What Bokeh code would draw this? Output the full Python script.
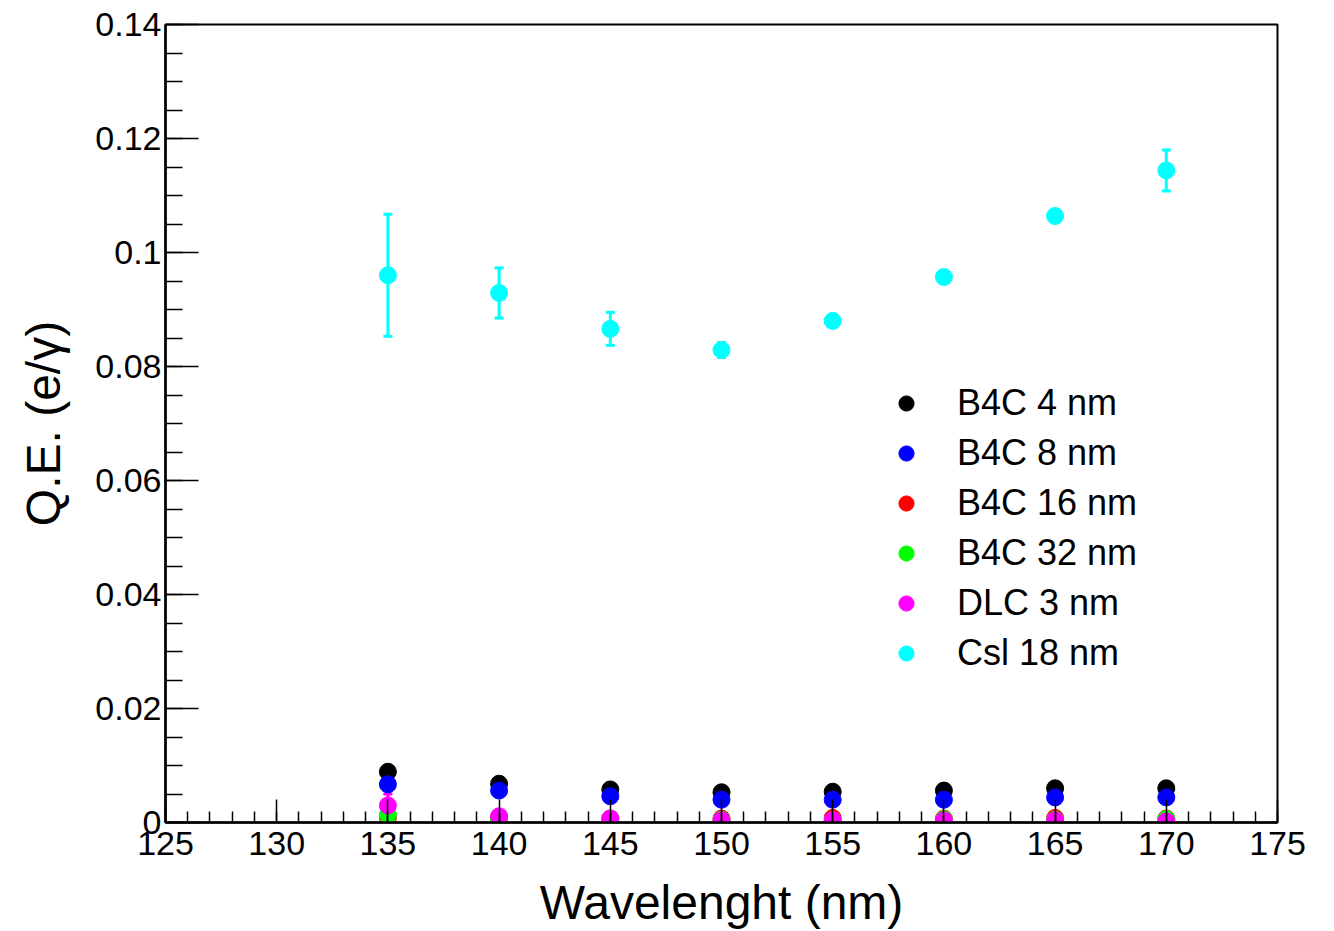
from bokeh.plotting import figure
from bokeh.models import (Range1d, FixedTicker, CustomJSTickFormatter, Whisker, TeeHead,
                          ColumnDataSource, Legend, LegendItem)
from bokeh.embed import file_html
from bokeh.resources import INLINE

wavelength = [135, 140, 145, 150, 155, 160, 165, 170]

b4c_4 = [0.0089, 0.0068, 0.0058, 0.0053, 0.0054, 0.0056, 0.0060, 0.0060]
b4c_4_err = [0.0005, 0.0005, 0.0004, 0.0004, 0.0004, 0.0004, 0.0004, 0.0004]
b4c_8 = [0.0067, 0.0056, 0.0046, 0.0040, 0.0040, 0.0040, 0.0044, 0.0044]
b4c_8_err = [0.0005, 0.0005, 0.0004, 0.0003, 0.0003, 0.0003, 0.0003, 0.0003]
b4c_16 = [0.0009, 0.0008, 0.0007, 0.0007, 0.0008, 0.0007, 0.0008, 0.0007]
b4c_16_err = [0.0003, 0.0002, 0.0002, 0.0002, 0.0002, 0.0002, 0.0002, 0.0002]
b4c_32 = [0.0013, 0.0004, 0.0002, 0.0005, 0.0004, 0.0006, 0.0005, 0.0006]
b4c_32_err = [0.0003, 0.0002, 0.0002, 0.0002, 0.0002, 0.0002, 0.0002, 0.0002]
dlc_3 = [0.0030, 0.0011, 0.0007, 0.0004, 0.0004, 0.0004, 0.0004, 0.0002]
dlc_3_err = [0.0020, 0.0003, 0.0003, 0.0002, 0.0002, 0.0002, 0.0002, 0.0002]
csi_18 = [0.0960, 0.0929, 0.0866, 0.0829, 0.0880, 0.0957, 0.1064, 0.1144]
csi_18_err = [0.0107, 0.0044, 0.0029, 0.0013, 0.0008, 0.0008, 0.0008, 0.0036]

series_names = ["B4C 4 nm", "B4C 8 nm", "B4C 16 nm", "B4C 32 nm", "DLC 3 nm", "CsI 18 nm"]
legend_labels = ["B4C 4 nm", "B4C 8 nm", "B4C 16 nm", "B4C 32 nm", "DLC 3 nm", "Csl 18 nm"]
series_values = [b4c_4, b4c_8, b4c_16, b4c_32, dlc_3, csi_18]
series_errors = [b4c_4_err, b4c_8_err, b4c_16_err, b4c_32_err, dlc_3_err, csi_18_err]
colors = ["#000000", "#0000ff", "#ff0000", "#00ff00", "#ff00ff", "#00ffff"]

x_ticks = [125, 130, 135, 140, 145, 150, 155, 160, 165, 170, 175]
y_ticks = [0, 0.02, 0.04, 0.06, 0.08, 0.10, 0.12, 0.14]

FONT = "Liberation Sans"

p = figure(width=1334, height=931, output_backend="svg", toolbar_location=None,
           x_range=Range1d(125, 175), y_range=Range1d(0, 0.14),
           min_border_left=165, min_border_right=57, min_border_top=24, min_border_bottom=108)
p.background_fill_color = "white"
p.border_fill_color = "white"
p.grid.visible = False
p.outline_line_color = "black"
p.outline_line_width = 2

xa = p.xaxis[0]
xa.ticker = FixedTicker(ticks=x_ticks, minor_ticks=list(range(125, 176)))
xa.axis_label = "Wavelenght (nm)"
ya = p.yaxis[0]
ya.ticker = FixedTicker(ticks=y_ticks, minor_ticks=[i * 0.005 for i in range(0, 29)])
ya.formatter = CustomJSTickFormatter(code="return tick.toFixed(2).replace(/0+$/,'').replace(/\\.$/,'');")
ya.axis_label = "Q.E. (e/\u03b3)"

for ax, maj, mnr in ((xa, 23, 11), (ya, 33, 17)):
    ax.axis_line_width = 2.5
    ax.axis_line_color = "black"
    ax.major_tick_in = maj
    ax.major_tick_out = 0
    ax.minor_tick_in = mnr
    ax.minor_tick_out = 0
    ax.major_tick_line_width = 1.5
    ax.minor_tick_line_width = 1.5
    ax.major_label_text_font = FONT
    ax.major_label_text_font_size = "34px"
    ax.major_label_text_color = "black"
    ax.axis_label_text_font = FONT
    ax.axis_label_text_font_size = "48px"
    ax.axis_label_text_font_style = "normal"
    ax.axis_label_text_color = "black"
xa.major_label_standoff = 9
ya.major_label_standoff = 4
xa.axis_label_standoff = 18
ya.axis_label_standoff = 22

items = []
for name, lab, vals, errs, col in zip(series_names, legend_labels, series_values, series_errors, colors):
    src = ColumnDataSource(dict(x=wavelength, y=vals,
                                lo=[v - e for v, e in zip(vals, errs)],
                                hi=[v + e for v, e in zip(vals, errs)]))
    w = Whisker(source=src, base="x", lower="lo", upper="hi", line_color=col, line_width=3,
                upper_head=TeeHead(size=9, line_color=col, line_width=3),
                lower_head=TeeHead(size=9, line_color=col, line_width=3))
    p.add_layout(w)
    r = p.scatter("x", "y", source=src, size=17, color=col, line_color=col)
    items.append(LegendItem(label=lab, renderers=[r]))

legend = Legend(items=items, location=(718, 144), border_line_alpha=0,
                background_fill_alpha=0, label_text_font=FONT, label_text_font_size="36px",
                label_text_color="black",
                glyph_width=38, glyph_height=38, label_height=38, spacing=8,
                label_standoff=32, padding=4, margin=0)
p.add_layout(legend)

open("out.html", "w").write(file_html(p, INLINE))
